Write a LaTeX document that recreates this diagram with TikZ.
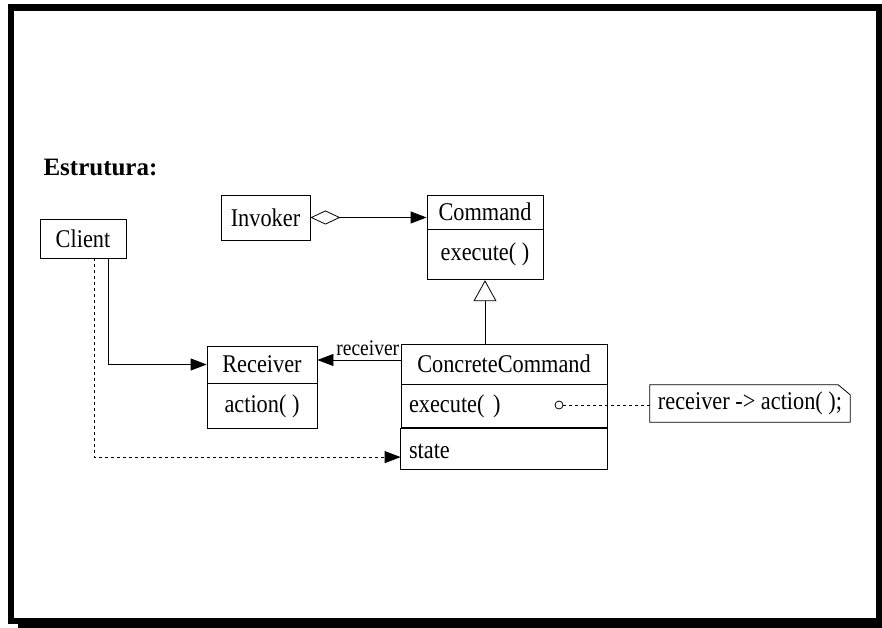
\documentclass[tikz,border=0pt]{standalone}
\usepackage{fontspec}
\setmainfont{Liberation Serif}[FakeStretch=0.875]
\newfontfamily\titlefont{Liberation Serif}
\usetikzlibrary{arrows.meta}

\begin{document}
\begin{tikzpicture}[x=1pt, y=-1pt,
    every node/.style={font=\fontsize{25.5}{30}\selectfont},
    classbox/.style={draw, black, line width=0.8pt, inner sep=0pt},
    compartment/.style={classbox, text width=190pt, inner xsep=8pt, align=left},
    link/.style={black, line width=0.8pt},
    dashlink/.style={link, dash pattern=on 3pt off 3pt},
    tip/.style={-{Triangle[length=16pt, width=12pt]}}]

% Frame
\useasboundingbox (0, 0) rectangle (882, 628);
\draw[black, line width=6.5pt] (11, 7.5) rectangle (879, 621);
\fill[black] (18, 624) rectangle (882, 628);

\node[anchor=west, font=\titlefont\fontsize{25}{30}\selectfont\bfseries] (title) at (40, 167) {Estrutura:};

% Classes
\node[classbox, minimum width=86pt, minimum height=39pt] (client) at (83, 238.5) {Client};
\node[classbox, minimum width=89pt, minimum height=45pt] (invoker) at (265.5, 217.5) {Invoker};
\node[classbox, minimum width=116pt, minimum height=34pt] (command) at (485, 212) {Command};
\node[classbox, minimum width=116pt, minimum height=50pt, anchor=north] (commandops) at (command.south) {execute( )};
\node[classbox, minimum width=110pt, minimum height=37pt] (receiver) at (262, 364.5) {Receiver};
\node[classbox, minimum width=110pt, minimum height=45pt, anchor=north] (receiverops) at (receiver.south) {action( )};
\node[classbox, minimum width=206pt, minimum height=40pt] (concrete) at (504, 364) {ConcreteCommand};
\node[compartment, minimum height=43pt, anchor=north] (concreteops) at (concrete.south) {execute( )};
\node[compartment, minimum height=41pt, anchor=north, text depth=0pt, yshift=-2pt, draw=none] (concreteattr) at (concreteops.south) {state};
\draw[link] (concreteops.south west) rectangle ([yshift=-41pt]concreteops.south east);

% Note
\node[circle, draw, line width=0.8pt, fill=white, inner sep=0pt, minimum size=8pt] (dot) at (559, 405) {};
\node[inner sep=0pt, minimum width=200pt, minimum height=37pt] (note) at (750, 403.5) {receiver -> action( );};
\draw[link] (note.north west) -- ([xshift=-12pt]note.north east) -- ([yshift=-10pt]note.north east)
  -- (note.south east) -- (note.south west) -- cycle;
\draw[dashlink] (dot.east) -- (dot.east -| note.west);

% Relations
\draw[link, {Diamond[open, length=30pt, width=14pt]}-{Triangle[length=16pt, width=12pt]}] (invoker.east) -- (invoker.east -| command.west);
\draw[link, -{Triangle[open, length=21pt, width=23pt]}] (concrete.north -| commandops.south) -- (commandops.south);
\draw[link, tip] ([yshift=4pt]concrete.west) -- ([yshift=4pt]concrete.west -| receiver.east)
  node[pos=0, above left, inner xsep=1pt, inner ysep=4pt, font=\fontsize{22.3}{26}\selectfont] (rlabel) {receiver};
\draw[link, tip] ([xshift=25pt]client.south) |- (receiver.west);
\draw[dashlink, tip] ([xshift=11pt]client.south) |- ([yshift=-6pt]concreteops.south west |- concreteattr.west);

\end{tikzpicture}
\end{document}
